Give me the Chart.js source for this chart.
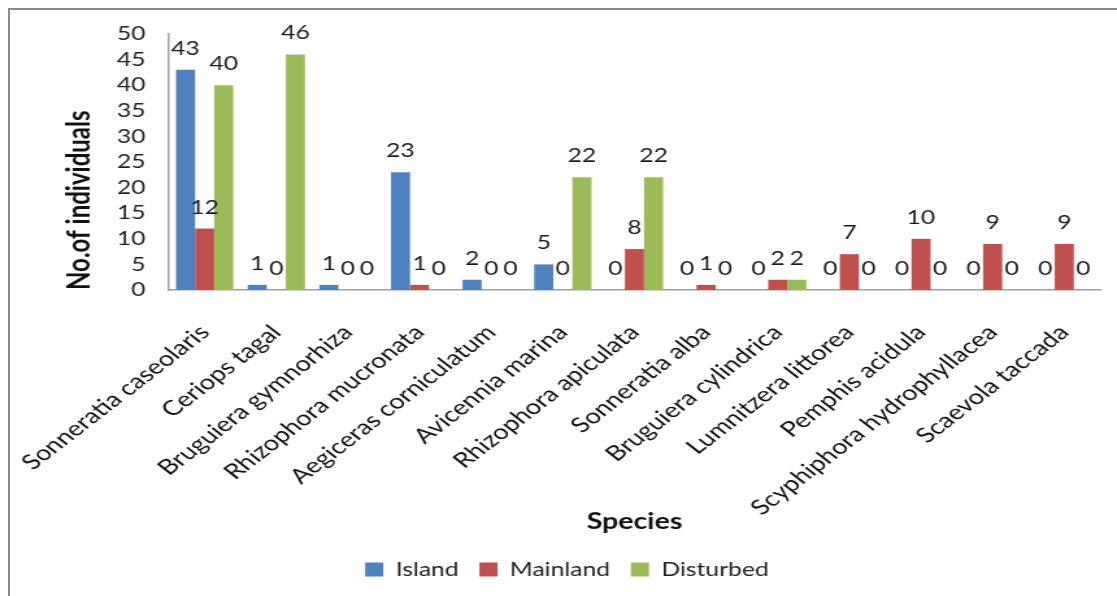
<!DOCTYPE html>
<html>
<head>
<meta charset="utf-8">
<script src="https://cdn.jsdelivr.net/npm/chart.js@4/dist/chart.umd.min.js"></script>
<style>
  html, body { margin: 0; padding: 0; background: #fff; overflow: hidden; }
  #frame {
    position: absolute; left: 8px; top: 8px; width: 1200px; height: 700px;
    border-left: 2px solid #8a8a8a; border-top: 2px solid #8a8a8a;
  }
  /* the chart is laid out narrow and stretched wide */
  #wrap {
    position: absolute; left: 0; top: 0; width: 860px; height: 596px;
    transform: scaleX(1.2988); transform-origin: 0 0;
  }
</style>
</head>
<body>
<div id="frame"></div>
<div id="wrap"><canvas id="speciesChart" width="860" height="596"></canvas></div>
<script>
const categories = [
  "Sonneratia caseolaris", "Ceriops tagal", "Bruguiera gymnorhiza",
  "Rhizophora mucronata", "Aegiceras corniculatum", "Avicennia marina",
  "Rhizophora apiculata", "Sonneratia alba", "Bruguiera cylindrica",
  "Lumnitzera littorea", "Pemphis acidula", "Scyphiphora hydrophyllacea",
  "Scaevola taccada"
];
const island    = [43, 1, 1, 23, 2, 5, 0, 0, 0, 0, 0, 0, 0];
const mainland  = [12, 0, 0, 1, 0, 0, 8, 1, 2, 7, 10, 9, 9];
const disturbed = [40, 46, 0, 0, 0, 22, 22, 0, 2, 0, 0, 0, 0];
const yMax = 50;
const yStep = 5;

const FONT = "Lato, 'Open Sans', sans-serif";

// value printed above every bar, zeros included
const barValueLabels = {
  id: "barValueLabels",
  afterDatasetsDraw(chart) {
    const ctx = chart.ctx;
    ctx.save();
    ctx.font = "19px " + FONT;
    ctx.fillStyle = "#1a1a1a";
    ctx.textAlign = "center";
    ctx.textBaseline = "alphabetic";
    chart.data.datasets.forEach((ds, i) => {
      chart.getDatasetMeta(i).data.forEach((bar, j) => {
        ctx.fillText(String(ds.data[j]), bar.x, bar.y - 15);
      });
    });
    ctx.restore();
  }
};

new Chart(document.getElementById("speciesChart"), {
  type: "bar",
  data: {
    labels: categories,
    datasets: [
      { label: "Island", data: island, backgroundColor: "#4F81BD" },
      { label: "Mainland", data: mainland, backgroundColor: "#C0504D" },
      { label: "Disturbed", data: disturbed, backgroundColor: "#9BBB59" }
    ]
  },
  options: {
    responsive: false,
    animation: false,
    layout: { padding: { left: 26, right: 13, top: 34, bottom: 7 } },
    datasets: { bar: { categoryPercentage: 0.8, barPercentage: 1.0 } },
    plugins: {
      tooltip: { enabled: false },
      legend: {
        position: "bottom",
        labels: {
          font: { family: FONT, size: 19 },
          color: "#222",
          boxWidth: 14,
          boxHeight: 14,
          padding: 16
        }
      }
    },
    scales: {
      x: {
        grid: { display: false },
        border: { color: "#a0a0a0", width: 1.5 },
        ticks: {
          autoSkip: false,
          minRotation: 45,
          maxRotation: 45,
          padding: 22,
          color: "#111",
          font: { family: FONT, size: 21 }
        },
        title: {
          display: true,
          text: "Species",
          color: "#111",
          padding: { top: 4, bottom: 9 },
          font: { family: FONT, size: 22, weight: "bold" }
        },
        afterFit(scale) {
          scale.height = 254;
          // long first label may hang past the y axis; don't push the plot
          scale.paddingLeft = 0;
          scale.paddingRight = 0;
        }
      },
      y: {
        min: 0,
        max: yMax,
        grid: { display: false },
        border: { color: "#a0a0a0", width: 1.5 },
        ticks: {
          stepSize: yStep,
          autoSkip: false,
          padding: 10,
          color: "#222",
          font: { family: FONT, size: 19 }
        },
        title: {
          display: true,
          text: "No.of individuals",
          align: "start",
          color: "#111",
          padding: { top: 21, bottom: 4 },
          font: { family: FONT, size: 24, weight: "bold" }
        },
        afterFit(scale) { scale.width = 104; }
      }
    }
  },
  plugins: [barValueLabels]
});
</script>
</body>
</html>
